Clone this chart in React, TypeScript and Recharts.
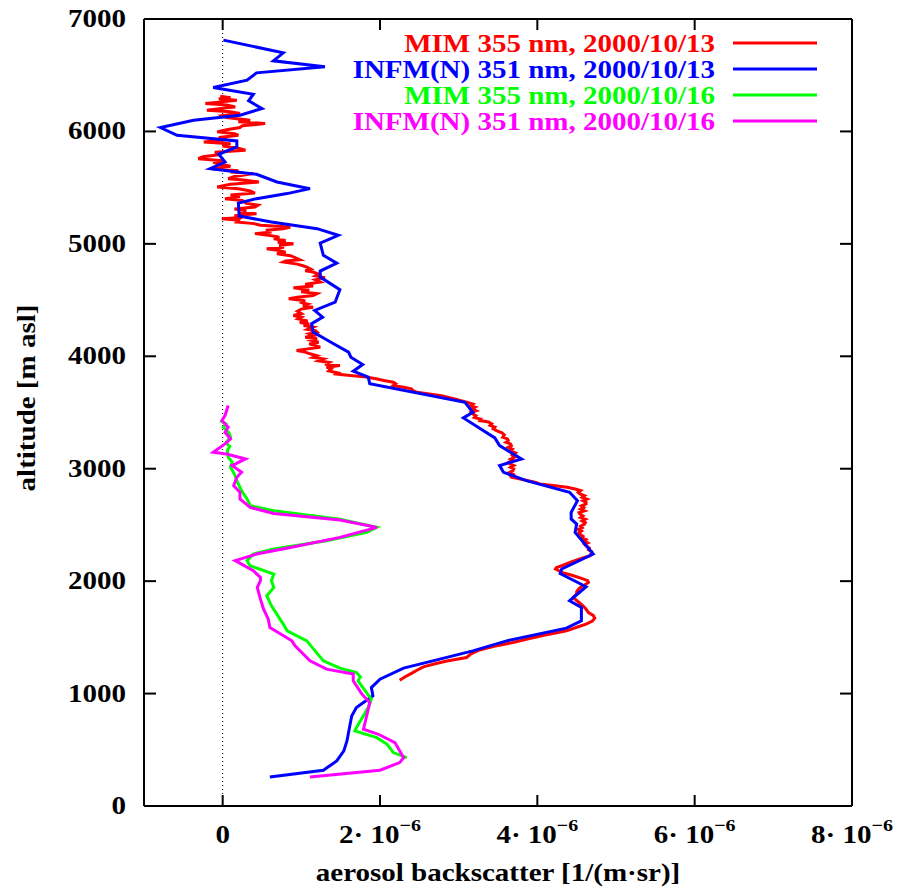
import React from 'react';
import { ScatterChart, Scatter, XAxis, YAxis, ReferenceLine, Legend } from 'recharts';

// backscatter in units of 1e-6 1/(m sr), altitude in m asl
const mim1013 = [
  [-0.03, 6314], [0.1, 6300], [-0.05, 6290], [0.18, 6278], [0.02, 6265], [-0.22, 6248], [0.05, 6235], [0.16, 6218],
  [-0.02, 6205], [-0.2, 6189], [0.1, 6175], [0.22, 6159], [0.0, 6140], [0.05, 6124], [0.35, 6100], [0.2, 6085],
  [0.54, 6070], [0.25, 6050], [0.22, 6035], [0.05, 6015], [-0.07, 5996], [0.15, 5980], [0.2, 5966], [-0.05, 5945],
  [0.05, 5925], [-0.24, 5907], [0.1, 5890], [0.0, 5870], [0.2, 5850], [0.29, 5833], [-0.1, 5815], [-0.02, 5795],
  [-0.25, 5775], [-0.31, 5758], [0.0, 5740], [-0.12, 5725], [-0.03, 5708], [0.1, 5690], [-0.14, 5669], [0.2, 5650],
  [0.1, 5640], [0.39, 5625], [0.15, 5600], [0.07, 5580], [0.3, 5565], [0.46, 5550], [0.1, 5530], [-0.07, 5506],
  [0.2, 5490], [0.35, 5470], [0.41, 5452], [0.1, 5435], [0.22, 5420], [0.03, 5402], [0.25, 5385], [0.3, 5360],
  [0.45, 5345], [0.41, 5328], [0.15, 5310], [0.3, 5295], [0.2, 5283], [0.43, 5268], [0.15, 5250], [0.25, 5235],
  [-0.01, 5224], [0.2, 5210], [0.18, 5194], [0.4, 5180], [0.48, 5165], [0.86, 5150], [0.77, 5135], [0.55, 5120],
  [0.62, 5105], [0.41, 5091], [0.6, 5075], [0.72, 5060], [0.65, 5046], [0.8, 5030], [0.7, 5015], [0.9, 5001],
  [0.72, 4985], [0.78, 4970], [0.56, 4957], [0.72, 4940], [0.8, 4925], [0.69, 4912], [0.86, 4895], [0.92, 4878],
  [0.98, 4859], [0.8, 4848], [0.77, 4838], [0.95, 4820], [1.02, 4805], [1.07, 4793], [1.12, 4775], [1.05, 4760],
  [1.15, 4749], [1.22, 4730], [1.18, 4715], [1.3, 4698], [1.18, 4680], [1.24, 4660], [1.05, 4640], [1.15, 4625],
  [0.9, 4610], [1.1, 4590], [1.0, 4575], [1.2, 4558], [1.15, 4541], [0.95, 4525], [0.84, 4511], [1.05, 4495],
  [0.98, 4482], [1.08, 4465], [1.02, 4450], [1.15, 4437], [1.0, 4420], [0.95, 4400], [1.0, 4380], [0.9, 4363],
  [1.0, 4348], [0.96, 4333], [1.08, 4315], [0.98, 4300], [1.1, 4290], [1.03, 4274], [1.15, 4260], [1.08, 4240],
  [1.18, 4228], [1.2, 4215], [1.1, 4200], [1.15, 4185], [1.05, 4170], [1.2, 4155], [1.13, 4141], [1.22, 4125],
  [1.1, 4110], [1.18, 4095], [1.24, 4081], [1.08, 4066], [0.94, 4052], [1.05, 4037], [1.11, 4022], [1.2, 4005],
  [1.15, 3990], [1.28, 3977], [1.22, 3960], [1.35, 3945], [1.3, 3930], [1.49, 3918], [1.32, 3903], [1.38, 3888],
  [1.35, 3870], [1.45, 3855], [1.41, 3844], [1.62, 3830], [1.8, 3818], [1.95, 3800], [2.05, 3785], [2.17, 3769],
  [2.2, 3755], [2.17, 3740], [2.3, 3725], [2.4, 3710], [2.42, 3695], [2.47, 3680], [2.78, 3650], [2.95, 3620],
  [3.1, 3591], [3.18, 3575], [3.15, 3560], [3.21, 3547], [3.17, 3530], [3.22, 3515], [3.16, 3502], [3.18, 3488],
  [3.22, 3470], [3.2, 3455], [3.28, 3440], [3.27, 3428], [3.38, 3415], [3.42, 3399], [3.4, 3385], [3.46, 3370],
  [3.44, 3355], [3.48, 3339], [3.55, 3320], [3.58, 3300], [3.56, 3280], [3.62, 3265], [3.63, 3250], [3.6, 3235],
  [3.66, 3220], [3.67, 3206], [3.63, 3190], [3.68, 3175], [3.65, 3160], [3.72, 3140], [3.68, 3120], [3.71, 3102],
  [3.66, 3085], [3.7, 3070], [3.64, 3058], [3.65, 3043], [3.7, 3028], [3.66, 3012], [3.7, 2998], [3.69, 2983],
  [3.64, 2965], [3.69, 2950], [3.66, 2935], [3.67, 2924], [3.8, 2905], [3.9, 2890], [3.98, 2878], [4.03, 2865],
  [4.2, 2850], [4.38, 2835], [4.48, 2820], [4.55, 2805], [4.52, 2790], [4.54, 2776], [4.6, 2760], [4.57, 2745],
  [4.63, 2730], [4.58, 2715], [4.62, 2700], [4.62, 2686], [4.56, 2670], [4.59, 2655], [4.55, 2640], [4.6, 2625],
  [4.53, 2610], [4.54, 2597], [4.58, 2580], [4.55, 2565], [4.61, 2550], [4.57, 2535], [4.61, 2520], [4.6, 2508],
  [4.55, 2490], [4.57, 2475], [4.52, 2460], [4.56, 2445], [4.53, 2432], [4.54, 2419], [4.58, 2400], [4.56, 2385],
  [4.62, 2370], [4.6, 2355], [4.64, 2340], [4.6, 2328], [4.62, 2315], [4.66, 2295], [4.65, 2280], [4.69, 2262],
  [4.68, 2245], [4.67, 2226], [4.55, 2200], [4.45, 2175], [4.35, 2150], [4.31, 2137], [4.24, 2120], [4.23, 2108],
  [4.28, 2090], [4.31, 2078], [4.45, 2050], [4.58, 2020], [4.64, 2005], [4.65, 1988], [4.6, 1965], [4.55, 1945],
  [4.52, 1925], [4.5, 1905], [4.5, 1885], [4.46, 1860], [4.48, 1840], [4.53, 1810], [4.58, 1781], [4.62, 1750],
  [4.65, 1721], [4.71, 1695], [4.73, 1671], [4.7, 1645], [4.62, 1618], [4.5, 1590], [4.37, 1558], [4.1, 1520],
  [3.9, 1490], [3.69, 1454], [3.45, 1420], [3.25, 1385], [3.15, 1350], [3.1, 1321], [2.85, 1290], [2.7, 1265],
  [2.55, 1238], [2.47, 1207], [2.4, 1180], [2.32, 1150], [2.25, 1119],
];

const infm1013 = [
  [0.01, 6812], [0.77, 6699], [0.645, 6628], [1.3, 6575], [0.43, 6521], [0.31, 6456], [-0.12, 6391], [0.39, 6331],
  [0.33, 6272], [0.5, 6204], [0.22, 6144], [-0.37, 6100], [-0.79, 6035], [-0.58, 5966], [0.18, 5915], [0.18, 5862],
  [-0.05, 5797], [0.03, 5728], [-0.16, 5669], [0.43, 5619], [0.69, 5550], [1.11, 5491], [0.82, 5447], [0.43, 5402],
  [0.2, 5363], [0.21, 5248], [0.62, 5194], [1.2, 5135], [1.47, 5076], [1.24, 5007], [1.28, 4898], [1.45, 4829],
  [1.24, 4758], [1.24, 4704], [1.49, 4592], [1.43, 4482], [1.17, 4408], [1.27, 4348], [1.13, 4290], [1.15, 4215],
  [1.41, 4111], [1.6, 4037], [1.63, 3992], [1.78, 3927], [1.66, 3867], [1.85, 3814], [1.87, 3755], [3.08, 3591],
  [3.18, 3502], [3.06, 3452], [3.46, 3274], [3.52, 3206], [3.8, 3087], [3.52, 3028], [3.57, 2968], [3.86, 2894],
  [4.41, 2790], [4.51, 2716], [4.43, 2612], [4.43, 2553], [4.5, 2508], [4.48, 2434], [4.71, 2241], [4.31, 2108],
  [4.29, 2068], [4.62, 1950], [4.41, 1825], [4.56, 1766], [4.56, 1647], [4.37, 1582], [3.61, 1469], [3.18, 1380],
  [2.76, 1306], [2.3, 1226], [2.0, 1128], [1.89, 1053], [1.91, 980], [1.7, 875], [1.64, 801], [1.58, 579],
  [1.54, 490], [1.45, 401], [1.28, 318], [0.6, 258],
];

const mim1016 = [
  [-0.03, 3428], [0.04, 3400], [0.01, 3369], [0.08, 3320], [0.1, 3280], [0.04, 3230], [0.09, 3200], [0.06, 3161],
  [0.07, 3102], [0.12, 3060], [0.1, 3013], [0.15, 2950], [0.18, 2894], [0.24, 2805], [0.31, 2731], [0.35, 2671],
  [0.65, 2627], [1.49, 2551], [1.96, 2478], [1.83, 2434], [1.32, 2360], [0.65, 2286], [0.39, 2241], [0.31, 2182],
  [0.35, 2137], [0.65, 2063], [0.62, 2004], [0.65, 1944], [0.56, 1870], [0.62, 1781], [0.77, 1618], [0.82, 1558],
  [1.07, 1469], [1.28, 1291], [1.49, 1226], [1.7, 1187], [1.75, 1149], [1.72, 1113], [1.89, 950], [1.85, 875],
  [1.7, 697], [1.68, 668], [1.96, 608], [2.09, 549], [2.17, 475], [2.34, 430],
];

const infm1016 = [
  [0.07, 3562], [0.03, 3473], [-0.01, 3428], [0.07, 3369], [0.03, 3324], [0.1, 3265], [0.03, 3221], [-0.12, 3146],
  [0.05, 3131], [0.29, 3087], [0.12, 3028], [0.24, 2968], [0.18, 2924], [0.14, 2850], [0.22, 2790], [0.22, 2731],
  [0.35, 2656], [0.65, 2602], [1.49, 2544], [1.96, 2478], [1.49, 2389], [0.86, 2300], [0.43, 2241], [0.16, 2182],
  [0.39, 2093], [0.48, 2033], [0.48, 2004], [0.44, 1944], [0.48, 1840], [0.52, 1751], [0.58, 1662], [0.6, 1588],
  [0.88, 1469], [0.92, 1425], [1.11, 1291], [1.32, 1217], [1.66, 1173], [1.66, 1113], [1.77, 995], [1.87, 920],
  [1.79, 683], [1.98, 638], [2.19, 564], [2.3, 430], [2.25, 386], [2.0, 318], [1.11, 258],
];

const xTicks = [0, 2, 4, 6, 8];
const yTicks = [0, 1000, 2000, 3000, 4000, 5000, 6000, 7000];

const series = [
  { name: 'MIM 355 nm, 2000/10/13', color: '#ff0000', data: mim1013 },
  { name: 'INFM(N) 351 nm, 2000/10/13', color: '#0000ff', data: infm1013 },
  { name: 'MIM 355 nm, 2000/10/16', color: '#00ff00', data: mim1016 },
  { name: 'INFM(N) 351 nm, 2000/10/16', color: '#ff00ff', data: infm1016 },
];

const toPoints = (d: number[][]) => d.map(([bs, alt]) => ({ bs, alt }));

// plot frame in page pixels
const L = 144, R = 852, T = 19, B = 806;
const FONT = '"Liberation Serif", "Times New Roman", serif';

function SText({ x, y, anchor = 'middle', size = 29, fill = '#000', rotate = false, children }: any) {
  return (
    <text
      transform={`translate(${x},${y})${rotate ? ' rotate(-90)' : ''} scale(1,0.87)`}
      textAnchor={anchor}
      fontFamily={FONT}
      fontWeight="bold"
      fontSize={size}
      fill={fill}
    >
      {children}
    </text>
  );
}

function XTick({ x, payload }: any) {
  const v = payload.value;
  return (
    <g>
      <line x1={x} x2={x} y1={B} y2={B - 11} stroke="#000" strokeWidth={2} />
      <line x1={x} x2={x} y1={T} y2={T + 11} stroke="#000" strokeWidth={2} />
      {v === 0 ? (
        <SText x={x} y={843}>0</SText>
      ) : (
        <SText x={x} y={843}>
          {`${v}· 10`}
          <tspan dy={-14} fontSize={20}>−6</tspan>
        </SText>
      )}
    </g>
  );
}

function YTick({ y, payload }: any) {
  return (
    <g>
      <line x1={L} x2={L + 12} y1={y} y2={y} stroke="#000" strokeWidth={2} />
      <line x1={R} x2={R - 12} y1={y} y2={y} stroke="#000" strokeWidth={2} />
      <SText x={126} y={y + 8} anchor="end">{payload.value}</SText>
    </g>
  );
}

function LegendBox() {
  return (
    <svg width={899} height={140}>
      {series.map((s, i) => (
        <g key={s.name}>
          <SText x={715} y={52 + i * 26} anchor="end" fill={s.color}>{s.name}</SText>
          <line x1={733} x2={817} y1={43 + i * 26} y2={43 + i * 26} stroke={s.color} strokeWidth={3} />
        </g>
      ))}
    </svg>
  );
}

export default function App() {
  return (
    <div style={{ position: 'absolute', left: 0, top: 0, width: 899, height: 888, background: '#fff' }}>
      <ScatterChart width={899} height={888} margin={{ top: T, right: 899 - R, bottom: 32, left: L - 100 }}>
        <XAxis
          type="number"
          dataKey="bs"
          domain={[-1, 8]}
          ticks={xTicks}
          allowDataOverflow
          height={50}
          axisLine={{ stroke: '#000', strokeWidth: 2 }}
          tickLine={false}
          tick={<XTick />}
          label={{ content: () => <SText x={498} y={881}>aerosol backscatter [1/(m·sr)]</SText> }}
        />
        <YAxis
          type="number"
          dataKey="alt"
          domain={[0, 7000]}
          ticks={yTicks}
          allowDataOverflow
          width={100}
          axisLine={{ stroke: '#000', strokeWidth: 2 }}
          tickLine={false}
          tick={<YTick />}
          label={{ content: () => <SText x={35} y={398} rotate>altitude [m asl]</SText> }}
        />
        <ReferenceLine y={7000} stroke="#000" strokeWidth={2} />
        <ReferenceLine x={8} stroke="#000" strokeWidth={2} />
        <ReferenceLine x={0} stroke="#000" strokeWidth={1} strokeDasharray="1 3" />
        <Legend
          layout="vertical"
          align="center"
          verticalAlign="middle"
          wrapperStyle={{ position: 'absolute', left: 0, top: 0, width: 899, height: 140, pointerEvents: 'none' }}
          content={() => <LegendBox />}
        />
        {series.map((s) => (
          <Scatter
            key={s.name}
            name={s.name}
            data={toPoints(s.data)}
            fill={s.color}
            line={{ stroke: s.color, strokeWidth: 3 }}
            lineType="joint"
            shape={() => <g />}
            isAnimationActive={false}
          />
        ))}
      </ScatterChart>
    </div>
  );
}
